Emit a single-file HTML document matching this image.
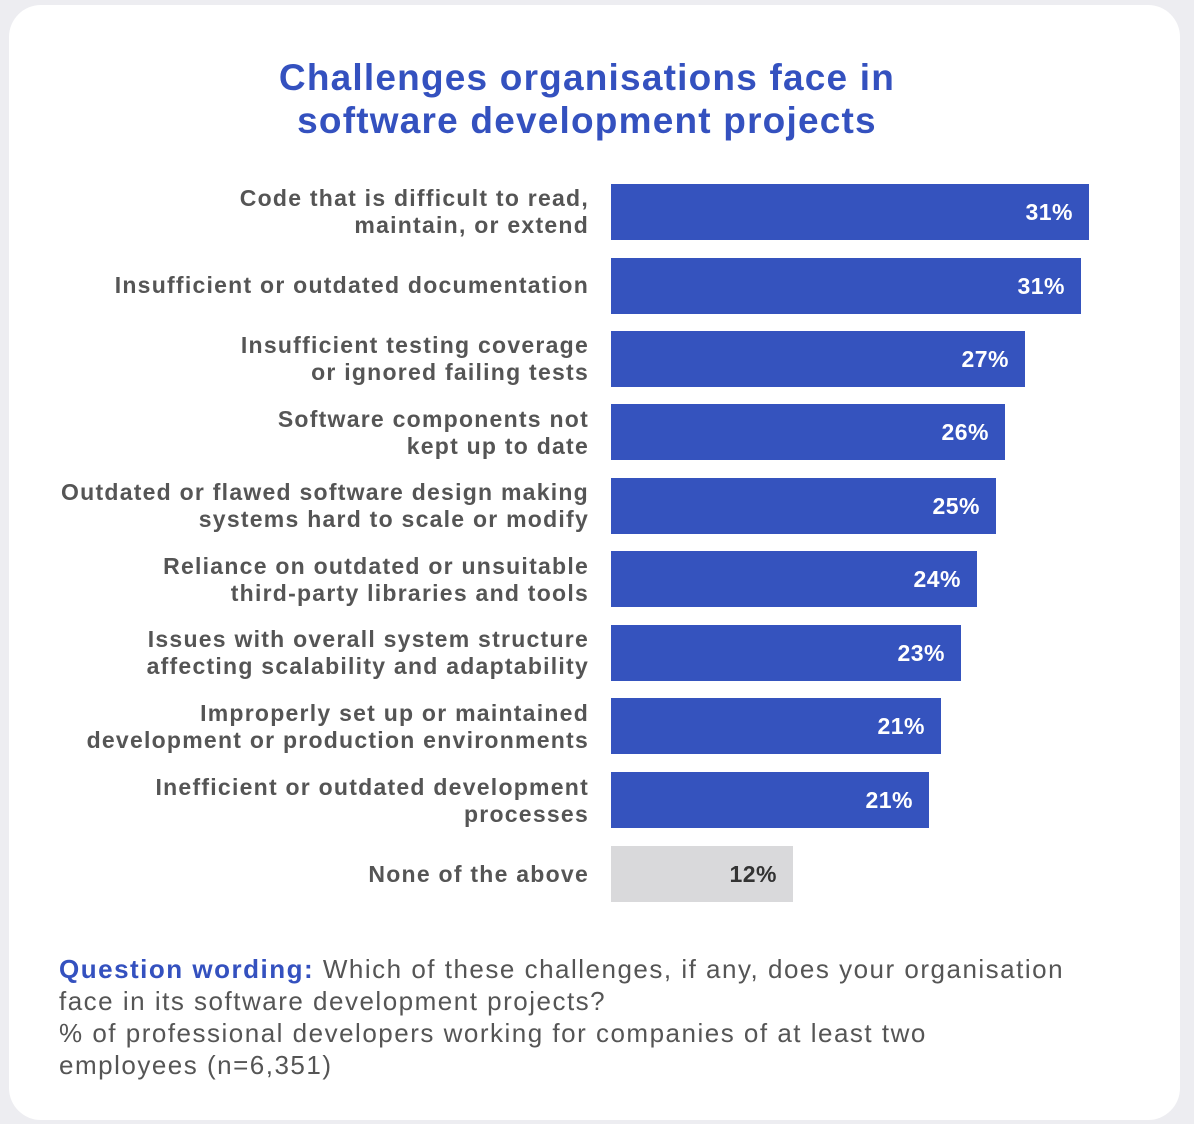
<!DOCTYPE html>
<html><head><meta charset="utf-8"><style>
body{margin:0;width:1194px;height:1124px;background:#ededf1;position:relative;overflow:hidden;font-family:"Liberation Sans",sans-serif;}
.card{position:absolute;left:9px;top:5px;width:1171px;height:1115px;background:#fff;border-radius:32px;}
.title{position:absolute;left:0;width:1174px;top:56px;text-align:center;font-weight:bold;font-size:37px;letter-spacing:1.2px;line-height:43px;color:#3451bf;}
.lab{position:absolute;right:605px;text-align:right;font-weight:bold;font-size:23px;letter-spacing:1.25px;line-height:27px;color:#555;white-space:nowrap;}
.bar{position:absolute;left:611px;height:56px;background:#3553be;}
.val{position:absolute;right:16px;top:0;line-height:56px;color:#fff;font-weight:bold;font-size:23px;letter-spacing:0.5px;}
.foot{position:absolute;left:59px;top:953px;width:1100px;font-size:26px;letter-spacing:1.5px;line-height:32px;color:#555;white-space:nowrap;}
</style></head><body>
<div class="card"></div>
<div class="title">Challenges organisations face in<br>software development projects</div>

<div class="lab" style="top:185px">Code that is difficult to read,<br>maintain, or extend</div>
<div class="bar" style="top:184px;width:478px"><span class="val">31%</span></div>

<div class="lab" style="top:272px">Insufficient or outdated documentation</div>
<div class="bar" style="top:258px;width:470px"><span class="val">31%</span></div>

<div class="lab" style="top:332px">Insufficient testing coverage<br>or ignored failing tests</div>
<div class="bar" style="top:331px;width:414px"><span class="val">27%</span></div>

<div class="lab" style="top:406px">Software components not<br>kept up to date</div>
<div class="bar" style="top:404px;width:394px"><span class="val">26%</span></div>

<div class="lab" style="top:479px">Outdated or flawed software design making<br>systems hard to scale or modify</div>
<div class="bar" style="top:478px;width:385px"><span class="val">25%</span></div>

<div class="lab" style="top:553px">Reliance on outdated or unsuitable<br>third-party libraries and tools</div>
<div class="bar" style="top:551px;width:366px"><span class="val">24%</span></div>

<div class="lab" style="top:626px">Issues with overall system structure<br>affecting scalability and adaptability</div>
<div class="bar" style="top:625px;width:350px"><span class="val">23%</span></div>

<div class="lab" style="top:700px">Improperly set up or maintained<br>development or production environments</div>
<div class="bar" style="top:698px;width:330px"><span class="val">21%</span></div>

<div class="lab" style="top:774px">Inefficient or outdated development<br>processes</div>
<div class="bar" style="top:772px;width:318px"><span class="val">21%</span></div>

<div class="lab" style="top:861px">None of the above</div>
<div class="bar" style="top:846px;width:182px;background:#d9d9db"><span class="val" style="color:#333">12%</span></div>

<div class="foot"><b style="color:#3451bf">Question wording:</b> Which of these challenges, if any, does your organisation<br>face in its software development projects?<br>% of professional developers working for companies of at least two<br>employees (n=6,351)</div>
</body></html>
